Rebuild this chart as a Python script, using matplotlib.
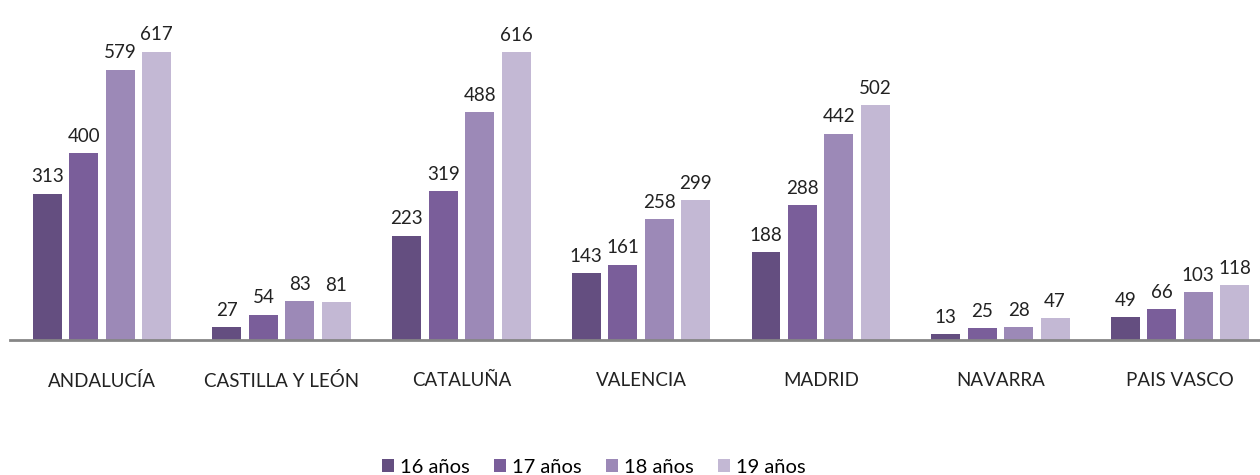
import numpy as np
import matplotlib
matplotlib.use("Agg")
import matplotlib.pyplot as plt

# data
regions = ["ANDALUCÍA", "CASTILLA Y LEÓN", "CATALUÑA", "VALENCIA",
           "MADRID", "NAVARRA", "PAIS VASCO"]
series = ["16 años", "17 años", "18 años", "19 años"]
age16 = [313, 27, 223, 143, 188, 13, 49]
age17 = [400, 54, 319, 161, 288, 25, 66]
age18 = [579, 83, 488, 258, 442, 28, 103]
age19 = [617, 81, 616, 299, 502, 47, 118]
colors = ["#644E80", "#7A5E9A", "#9C89B7", "#C3B8D4"]

plt.rcParams['font.family'] = ['Lato', 'DejaVu Sans']

fig = plt.figure(figsize=(12.6, 4.75), dpi=100)
ax = fig.add_axes([10/1260, 135/475, 1250/1260, 327/475])

x = np.arange(len(regions))
width = 0.161
step = 0.203
for i, (vals, name) in enumerate(zip([age16, age17, age18, age19], series)):
    pos = x + (i - 1.5) * step
    bars = ax.bar(pos, vals, width, color=colors[i], label=name)
    ax.bar_label(bars, labels=[str(v) for v in vals], padding=6,
                 fontsize=13.5, color="#222222")

ax.set_xlim(-0.512, 6.445)
ax.set_ylim(0, 700)
for s in ["top", "right", "left"]:
    ax.spines[s].set_visible(False)
ax.spines["bottom"].set_color("#868686")
ax.spines["bottom"].set_linewidth(2)
ax.set_yticks([])
ax.set_xticks(x)
ax.set_xticklabels(regions, fontsize=13.5, color="#222222")
ax.tick_params(axis="x", length=0, pad=23)

# legend sits a bit left of the figure centre in the reference
fig.legend(loc="lower center", bbox_to_anchor=(594/1260, -0.04), ncol=4,
           frameon=False, fontsize=14.5, handlelength=0.6, handleheight=0.6,
           handletextpad=0.3, columnspacing=1.2)

fig.savefig("out.png", dpi=100)
